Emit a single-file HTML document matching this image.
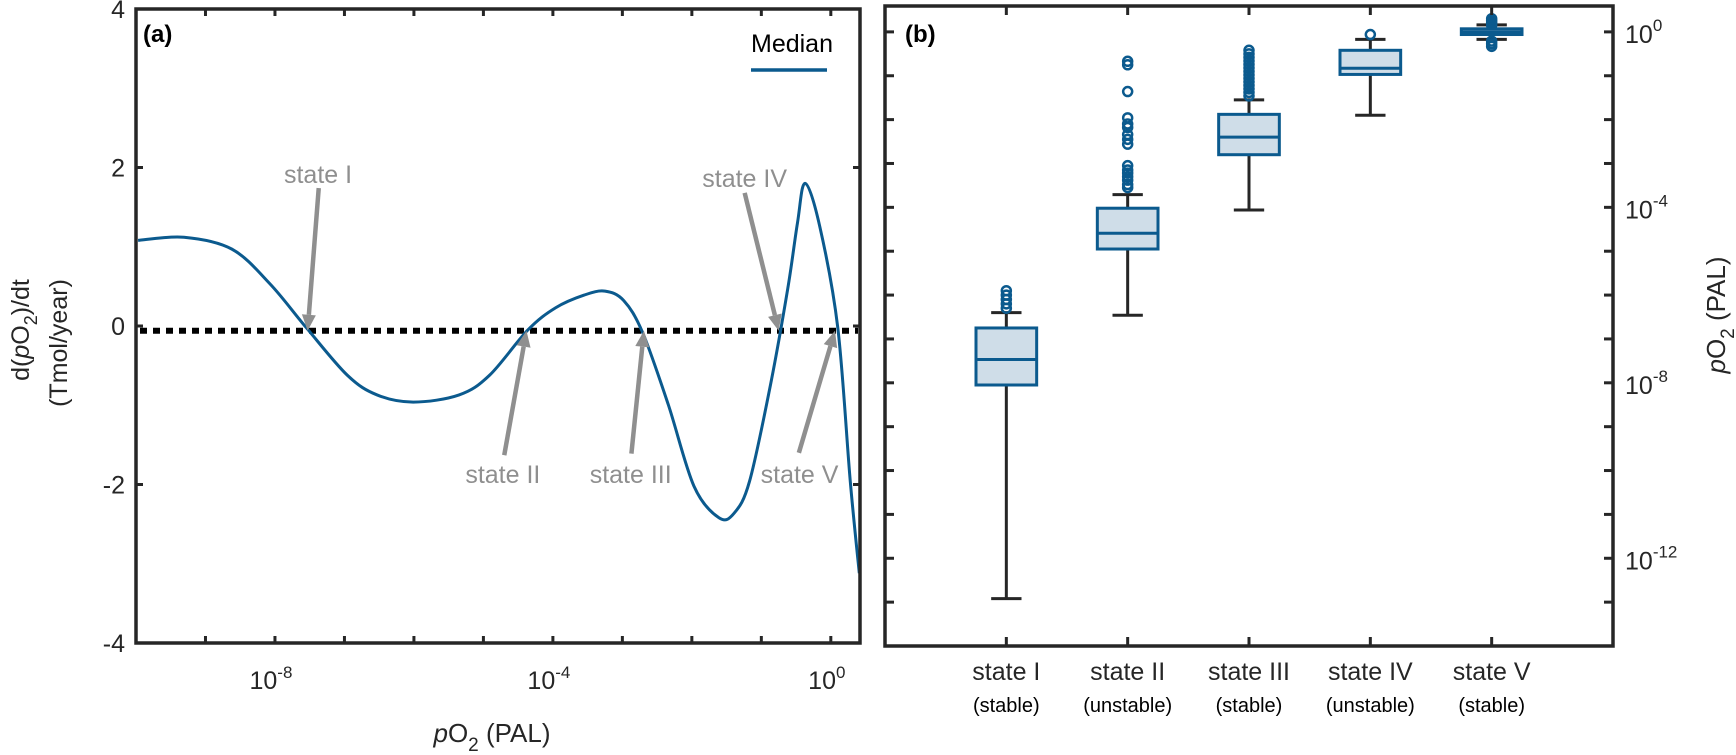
<!DOCTYPE html>
<html><head><meta charset="utf-8">
<style>
html,body{margin:0;padding:0;background:#fff;}
svg{display:block;font-family:"Liberation Sans",sans-serif;}
</style></head>
<body>
<svg id="fig" width="1736" height="755" viewBox="0 0 1736 755" xmlns="http://www.w3.org/2000/svg">
<g id="pa"></g>
<g id="pb"></g>
</svg>
<script>
// ---------- Panel (a) data ----------
const curveLogX = [-9.97,-9.31,-8.62,-8.07,-7.55,-6.96,-6.53,-6.01,-5.35,-4.91,-4.36,-3.96,-3.55,-3.25,-2.98,-2.71,-2.34,-1.97,-1.61,-1.39,-1.17,-0.87,-0.62,-0.48,-0.37,-0.16,0.10,0.28,0.41];
const curveY    = [1.08,1.12,0.97,0.53,-0.02,-0.62,-0.87,-0.96,-0.87,-0.62,-0.05,0.23,0.39,0.44,0.32,-0.08,-0.99,-2.02,-2.42,-2.36,-1.96,-0.75,0.47,1.30,1.80,1.26,-0.02,-1.96,-3.12];
const zeroLineY = -0.06;
const aYTicks = [4,2,0,-2,-4];
const aXTickExp = [-8,-4,0];
const stateNames = ["state I","state II","state III","state IV","state V"];
const arrowTipLogX = [-7.53,-4.38,-2.69,-0.75,0.06];
const arrowTailLogX = [-7.37,-4.70,-2.87,-1.24,-0.46];
const arrowTailY = [1.74,-1.63,-1.61,1.68,-1.6];
const labelLogX = [-7.38,-4.72,-2.88,-1.24,-0.45];
const labelY = [1.92,-1.87,-1.87,1.87,-1.87];

// ---------- Panel (b) data ----------
const catNames = ["state I","state II","state III","state IV","state V"];
const catSub = ["(stable)","(unstable)","(stable)","(unstable)","(stable)"];
const q1 = [-8.05,-4.95,-2.80,-0.97,-0.06];
const med = [-7.47,-4.59,-2.40,-0.83,0.0];
const q3 = [-6.75,-4.02,-1.88,-0.42,0.07];
const whiskLo = [-12.92,-6.46,-4.06,-1.90,-0.17];
const whiskHi = [-6.40,-3.71,-1.55,-0.17,0.16];
const outliers1 = [-5.9,-6.0,-6.1,-6.2,-6.3];
const outliers2 = [-0.67,-0.75,-1.36,-1.96,-2.1,-2.18,-2.34,-2.45,-2.56,-3.05,-3.15,-3.22,-3.3,-3.38,-3.48,-3.55];
const outliers3 = [-0.42,-0.5,-0.58,-0.66,-0.74,-0.82,-0.9,-0.98,-1.06,-1.14,-1.22,-1.3,-1.38,-1.46];
const outliers4 = [-0.06];
const outliers5 = [0.3,0.25,0.2,0.15,-0.21,-0.27,-0.33];
const bYTickExp = [0,-4,-8,-12];

const NS="http://www.w3.org/2000/svg";
const BLUE="#0b5a8e", DARK="#262626", GRAY="#8f8f8f";
function mk(parent,tag,attrs){const e=document.createElementNS(NS,tag);for(const k in attrs)e.setAttribute(k,attrs[k]);parent.appendChild(e);return e;}

// ===== Panel a =====
const pa=document.getElementById('pa');
const A={x0:136,x1:860,y0:9,y1:643,lx0:-10,lx1:0.42,ymin:-4,ymax:4};
const ax=v=>A.x0+(v-A.lx0)/(A.lx1-A.lx0)*(A.x1-A.x0);
const ay=v=>A.y1-(v-A.ymin)/(A.ymax-A.ymin)*(A.y1-A.y0);

let zl=mk(pa,'line',{x1:A.x0+4,x2:A.x1-2,y1:ay(zeroLineY),y2:ay(zeroLineY),stroke:'#000','stroke-width':6,'stroke-dasharray':'7 6'});



const P=curveLogX.map((v,i)=>[ax(v),ay(curveY[i])]);
let d=`M${P[0][0]},${P[0][1]}`;
for(let i=0;i<P.length-1;i++){const p0=P[Math.max(0,i-1)],p1=P[i],p2=P[i+1],p3=P[Math.min(P.length-1,i+2)];
 d+=` C${p1[0]+(p2[0]-p0[0])/6},${p1[1]+(p2[1]-p0[1])/6} ${p2[0]-(p3[0]-p1[0])/6},${p2[1]-(p3[1]-p1[1])/6} ${p2[0]},${p2[1]}`;}
let cv=mk(pa,'path',{d:d,fill:'none',stroke:BLUE,'stroke-width':3});



stateNames.forEach((n,i)=>{
 const tx=ax(arrowTailLogX[i]),ty=ay(arrowTailY[i]),hx=ax(arrowTipLogX[i]),hy=ay(zeroLineY);
 const dx=hx-tx,dy=hy-ty,L=Math.hypot(dx,dy),ux=dx/L,uy=dy/L;
 const bx=hx-ux*16,by=hy-uy*16;
 const g=mk(pa,'g',{});
 
 
 mk(g,'line',{x1:tx,y1:ty,x2:bx,y2:by,stroke:GRAY,'stroke-width':4.5});
 mk(g,'polygon',{points:`${hx},${hy} ${bx-uy*7},${by+ux*7} ${bx+uy*7},${by-ux*7}`,fill:GRAY});
 const t=mk(g,'text',{x:ax(labelLogX[i]),y:ay(labelY[i])+9,'text-anchor':'middle','font-size':25,fill:GRAY});
 t.textContent=n;
 
 
});

let fa=mk(pa,'rect',{x:A.x0,y:A.y0,width:A.x1-A.x0,height:A.y1-A.y0,fill:'none',stroke:DARK,'stroke-width':3.5});


for(let e=-9;e<=0;e++){const x=ax(e);mk(pa,'line',{x1:x,x2:x,y1:A.y1,y2:A.y1-7,stroke:DARK,'stroke-width':3});mk(pa,'line',{x1:x,x2:x,y1:A.y0,y2:A.y0+7,stroke:DARK,'stroke-width':3});}
aXTickExp.forEach(e=>{const t=mk(pa,'text',{x:ax(e)-4,y:689,'text-anchor':'middle','font-size':25,fill:DARK});
 t.innerHTML=`10<tspan dy="-11" font-size="17">${e}</tspan>`;
 
 });
aYTicks.forEach(v=>{const y=ay(v);mk(pa,'line',{x1:A.x0,x2:A.x0+7,y1:y,y2:y,stroke:DARK,'stroke-width':3});mk(pa,'line',{x1:A.x1,x2:A.x1-7,y1:y,y2:y,stroke:DARK,'stroke-width':3});
 const t=mk(pa,'text',{x:125,y:y+9,'text-anchor':'end','font-size':25,fill:DARK});t.textContent=v;
 
 });
let pl=mk(pa,'text',{x:143,y:42,'font-size':24,'font-weight':'bold',fill:'#000'});pl.textContent='(a)';


let lg=mk(pa,'g',{});


let lt=mk(lg,'text',{x:751,y:52,'font-size':25,fill:'#000'});lt.textContent='Median';
mk(lg,'line',{x1:751,x2:827,y1:70,y2:70,stroke:BLUE,'stroke-width':3.5});
let xt=mk(pa,'text',{x:492,y:742,'text-anchor':'middle','font-size':26,fill:DARK});
xt.innerHTML='<tspan font-style="italic">p</tspan>O<tspan dy="9" font-size="19">2</tspan><tspan dy="-9"> (PAL)</tspan>';


let yt=mk(pa,'text',{transform:'translate(29,330) rotate(-90)','text-anchor':'middle','font-size':25,fill:DARK});
yt.innerHTML='d(<tspan font-style="italic">p</tspan>O<tspan dy="8" font-size="18">2</tspan><tspan dy="-8">)/dt</tspan>';


let yt2=mk(pa,'text',{transform:'translate(67,343) rotate(-90)','text-anchor':'middle','font-size':25,fill:DARK});
yt2.textContent='(Tmol/year)';



// ===== Panel b =====
const pb=document.getElementById('pb');
const B={x0:885,x1:1613,y0:6,y1:646,xmin:0,xmax:6,lmin:-14,lmax:0.59};
const bx=v=>B.x0+(v-B.xmin)/(B.xmax-B.xmin)*(B.x1-B.x0);
const by=v=>B.y1-(v-B.lmin)/(B.lmax-B.lmin)*(B.y1-B.y0);
const outs=[outliers1,outliers2,outliers3,outliers4,outliers5];
const hw=(bx(0.25)-bx(0));
catNames.forEach((n,i)=>{
 const c=bx(i+1);
 const g=mk(pb,'g',{});
 
 
 mk(g,'line',{x1:c,x2:c,y1:by(q3[i]),y2:by(whiskHi[i]),stroke:DARK,'stroke-width':3});
 mk(g,'line',{x1:c,x2:c,y1:by(q1[i]),y2:by(whiskLo[i]),stroke:DARK,'stroke-width':3});
 mk(g,'line',{x1:c-hw/2,x2:c+hw/2,y1:by(whiskHi[i]),y2:by(whiskHi[i]),stroke:DARK,'stroke-width':3});
 mk(g,'line',{x1:c-hw/2,x2:c+hw/2,y1:by(whiskLo[i]),y2:by(whiskLo[i]),stroke:DARK,'stroke-width':3});
 outs[i].forEach(o=>{mk(g,'circle',{cx:c,cy:by(o),r:4.5,fill:'none',stroke:BLUE,'stroke-width':2.5});});
 mk(g,'rect',{x:c-hw,y:by(q3[i]),width:2*hw,height:Math.max(3,by(q1[i])-by(q3[i])),fill:'#cfdde8',stroke:BLUE,'stroke-width':3});
 mk(g,'line',{x1:c-hw,x2:c+hw,y1:by(med[i]),y2:by(med[i]),stroke:BLUE,'stroke-width':3});
 mk(pb,'line',{x1:c,x2:c,y1:B.y1,y2:B.y1-9,stroke:DARK,'stroke-width':3});
 mk(pb,'line',{x1:c,x2:c,y1:B.y0,y2:B.y0+9,stroke:DARK,'stroke-width':3});
 const t=mk(pb,'text',{x:c,y:680,'text-anchor':'middle','font-size':25,fill:DARK});t.textContent=n;
 
 
 const s=mk(pb,'text',{x:c,y:712,'text-anchor':'middle','font-size':20,fill:'#000'});s.textContent=catSub[i];
 
 
});
let fb=mk(pb,'rect',{x:B.x0,y:B.y0,width:B.x1-B.x0,height:B.y1-B.y0,fill:'none',stroke:DARK,'stroke-width':3.5});


for(let e=0;e>=-13;e--){const y=by(e);mk(pb,'line',{x1:B.x0,x2:B.x0+9,y1:y,y2:y,stroke:DARK,'stroke-width':3});mk(pb,'line',{x1:B.x1,x2:B.x1-9,y1:y,y2:y,stroke:DARK,'stroke-width':3});}
bYTickExp.forEach(e=>{const t=mk(pb,'text',{x:1625,y:by(e)+11,'font-size':25,fill:DARK});
 t.innerHTML=`10<tspan dy="-12" font-size="17">${e}</tspan>`;
 
 });
let pl2=mk(pb,'text',{x:905,y:42,'font-size':24,'font-weight':'bold',fill:'#000'});pl2.textContent='(b)';


let yb=mk(pb,'text',{transform:'translate(1725,315) rotate(-90)','text-anchor':'middle','font-size':26,fill:DARK});
yb.innerHTML='<tspan font-style="italic">p</tspan>O<tspan dy="9" font-size="19">2</tspan><tspan dy="-9"> (PAL)</tspan>';


</script>
</body></html>
